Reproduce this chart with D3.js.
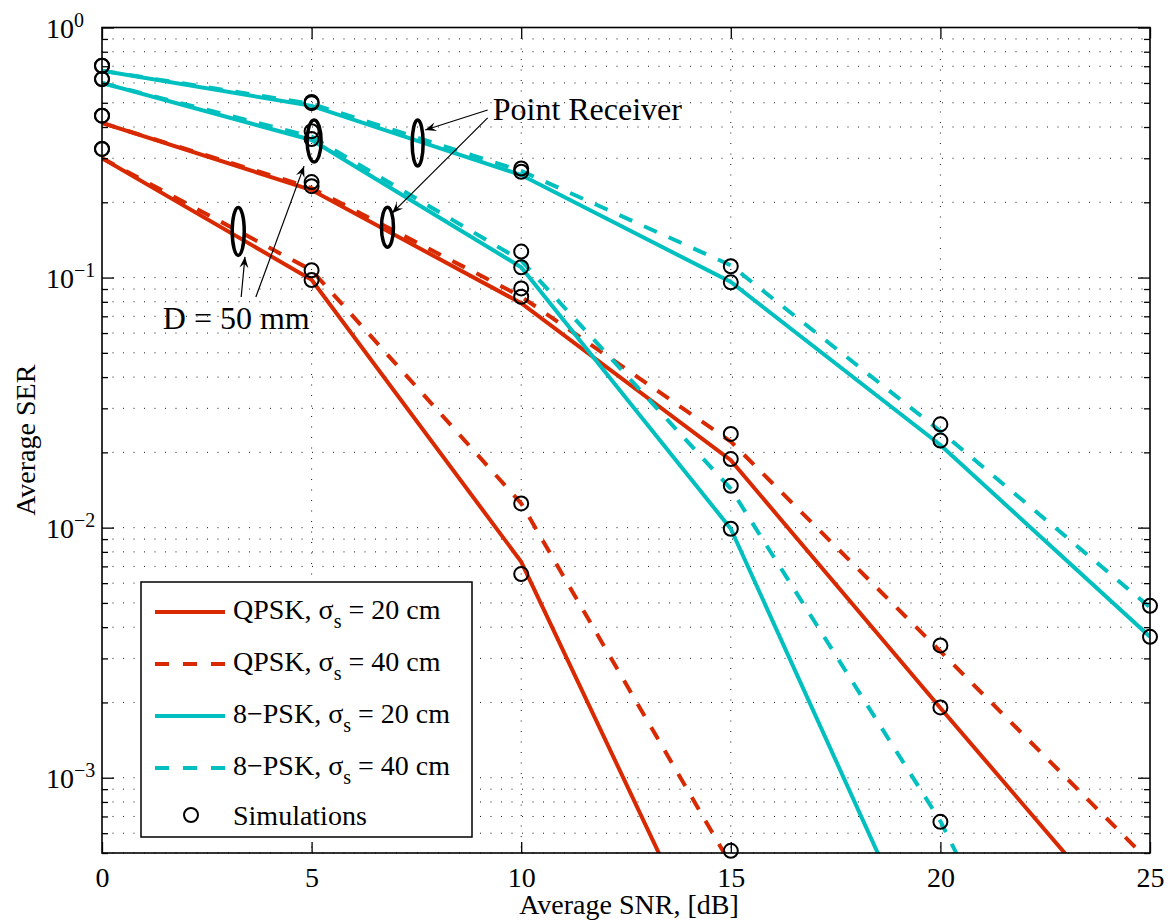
<!DOCTYPE html>
<html><head><meta charset="utf-8">
<script src="https://cdn.jsdelivr.net/npm/d3@7"></script>
<style>
body{margin:0;background:#fff}
svg{display:block}
text{font-family:"Liberation Serif","Times New Roman",serif;fill:#000}
</style>
</head><body>
<svg id="c" width="1172" height="922"></svg>
<script>
// ---------- data ----------
const snr = [0, 5, 10, 15, 20, 25];
const xTickValues = [0, 5, 10, 15, 20, 25];
const yMajorValues = [1, 0.1, 0.01, 0.001];

// analytical curves (D = 50 mm and point receiver)
const qpsk20Point = [0.415, 0.224, 0.079, 0.0186, 0.0019, 0.0002];
const qpsk40Point = [0.415, 0.228, 0.084, 0.0221, 0.0032, 0.00046];
const qpsk20D50   = [0.30, 0.098, 0.0073, 0.000123, null, null];
const qpsk40D50   = [0.30, 0.107, 0.0125, 0.00045, null, null];
const psk20Point  = [0.672, 0.486, 0.257, 0.096, 0.0214, 0.00366];
const psk40Point  = [0.672, 0.495, 0.267, 0.112, 0.0243, 0.0048];
const psk20D50    = [0.60, 0.355, 0.110, 0.0099, 0.00014, null];
const psk40D50    = [0.60, 0.366, 0.117, 0.0143, 0.00067, 0.000014];

// simulation points
const simQpsk20Point = [0.444, 0.232, 0.0838, 0.0188, 0.00191, null];
const simQpsk40Point = [0.444, 0.241, 0.0905, 0.0237, 0.00338, null];
const simQpsk20D50   = [0.327, 0.0977, 0.00652, null, null, null];
const simQpsk40D50   = [0.327, 0.107, 0.0125, 0.00051, null, null];
const simPsk20Point  = [0.703, 0.498, 0.265, 0.0957, 0.0223, 0.00366];
const simPsk40Point  = [0.703, 0.504, 0.273, 0.111, 0.0259, 0.00487];
const simPsk20D50    = [0.622, 0.358, 0.110, 0.0099, null, null];
const simPsk40D50    = [0.622, 0.385, 0.127, 0.0147, 0.000666, null];

const legendLabels = ["QPSK", "QPSK", "8\u2212PSK", "8\u2212PSK"];
const legendSigma = ["20", "40", "20", "40"];

// annotations (data coordinates)
const ellipseCenters = [[3.25, 0.153], [5.06, 0.352], [6.81, 0.159], [7.53, 0.345]];
const ellipseRadii = [[6, 24], [7, 21], [6, 20], [5.5, 23]];
const arrowsD = [[[3.32, 0.0836], [3.41, 0.121]], [[3.67, 0.0836], [4.82, 0.279]]];
const arrowsP = [[[9.2, 0.468], [7.71, 0.389]], [[9.2, 0.435], [6.92, 0.181]]];
const labelD = {text: "D = 50 mm", x: 1.45, y: 0.0622};
const labelP = {text: "Point Receiver", x: 9.32, y: 0.427};

// ---------- setup ----------
const RED = "#d92900", CYAN = "#00bfbf";
const FONT = '"Liberation Serif","Times New Roman",serif';
const m = {left: 102, right: 1150, top: 27.5, bottom: 853};
const x = d3.scaleLinear().domain([0, 25]).range([m.left, m.right]);
const y = d3.scaleLog().domain([5e-4, 1]).range([m.bottom, m.top]);
const svg = d3.select("#c");

const series = [
  {v: qpsk20Point, s: simQpsk20Point, c: RED, dash: false},
  {v: qpsk40Point, s: simQpsk40Point, c: RED, dash: true},
  {v: qpsk20D50, s: simQpsk20D50, c: RED, dash: false},
  {v: qpsk40D50, s: simQpsk40D50, c: RED, dash: true},
  {v: psk20Point, s: simPsk20Point, c: CYAN, dash: false},
  {v: psk40Point, s: simPsk40Point, c: CYAN, dash: true},
  {v: psk20D50, s: simPsk20D50, c: CYAN, dash: false},
  {v: psk40D50, s: simPsk40D50, c: CYAN, dash: true}
];

// minor values
const yMinor = [];
for (let e = -4; e <= -1; e++) for (let k = 2; k <= 9; k++) {
  const v = k * Math.pow(10, e);
  if (v >= 5e-4 && v < 1) yMinor.push(v);
}

// ---------- grid ----------
const grid = svg.append("g").attr("stroke", "#1a1a1a").attr("stroke-width", 1)
  .attr("stroke-dasharray", "1,9.5").attr("fill", "none");
grid.selectAll("line.v").data(xTickValues.filter(d => d > 0 && d < 25)).join("line")
  .attr("x1", d => x(d)).attr("x2", d => x(d)).attr("y1", m.top).attr("y2", m.bottom);
grid.selectAll("line.h").data(yMinor.concat(yMajorValues.filter(d => d < 1))).join("line")
  .attr("y1", d => y(d)).attr("y2", d => y(d)).attr("x1", m.left).attr("x2", m.right);

// ---------- lines ----------
svg.append("clipPath").attr("id", "clip").append("rect")
  .attr("x", m.left).attr("y", m.top).attr("width", m.right - m.left).attr("height", m.bottom - m.top);
const line = d3.line().defined(d => d[1] != null).x(d => x(d[0])).y(d => y(d[1]));
const gl = svg.append("g").attr("clip-path", "url(#clip)");
series.forEach(s => {
  gl.append("path").datum(snr.map((t, i) => [t, s.v[i]]))
    .attr("d", line).attr("fill", "none").attr("stroke", s.c).attr("stroke-width", 4)
    .attr("stroke-dasharray", s.dash ? "14,13" : null);
});

// ---------- simulation circles ----------
const pts = [];
series.forEach(s => snr.forEach((t, i) => { if (s.s[i] != null) pts.push([t, s.s[i]]); }));
svg.append("g").selectAll("circle").data(pts).join("circle")
  .attr("cx", d => x(d[0])).attr("cy", d => y(d[1])).attr("r", 7)
  .attr("fill", "none").attr("stroke", "#000").attr("stroke-width", 2);

// ---------- axes ----------
function styleAxis(g) {
  g.select(".domain").remove();
  g.selectAll("line").attr("stroke", "#000").attr("stroke-width", 1.3);
  g.attr("font-family", FONT).attr("font-size", 28);
  g.selectAll("text").attr("fill", "#000");
}
svg.append("g").attr("transform", `translate(0,${m.bottom})`)
  .call(d3.axisBottom(x).tickValues(xTickValues).tickFormat(d3.format("d"))
    .tickSizeInner(-11).tickSizeOuter(0).tickPadding(14)).call(styleAxis);
svg.append("g").attr("transform", `translate(0,${m.top})`)
  .call(d3.axisTop(x).tickValues(xTickValues).tickFormat("")
    .tickSizeInner(-11).tickSizeOuter(0)).call(styleAxis);
svg.append("g").attr("transform", `translate(${m.left},0)`)
  .call(d3.axisLeft(y).tickValues(yMajorValues).tickFormat("").tickSizeInner(-12).tickSizeOuter(0)).call(styleAxis);
svg.append("g").attr("transform", `translate(${m.left},0)`)
  .call(d3.axisLeft(y).tickValues(yMinor).tickFormat("").tickSizeInner(-6).tickSizeOuter(0)).call(styleAxis);
svg.append("g").attr("transform", `translate(${m.right},0)`)
  .call(d3.axisRight(y).tickValues(yMajorValues).tickFormat("").tickSizeInner(-12).tickSizeOuter(0)).call(styleAxis);
svg.append("g").attr("transform", `translate(${m.right},0)`)
  .call(d3.axisRight(y).tickValues(yMinor).tickFormat("").tickSizeInner(-6).tickSizeOuter(0)).call(styleAxis);

// y tick labels 10^e
yMajorValues.forEach(v => {
  const e = Math.round(Math.log10(v));
  const t = svg.append("text").attr("x", 46).attr("y", y(v) + 10).attr("font-size", 28);
  t.append("tspan").text("10");
  t.append("tspan").attr("dy", -11).attr("font-size", 20).text(e < 0 ? "\u2212" + (-e) : String(e));
});

// box
svg.append("rect").attr("x", m.left).attr("y", m.top).attr("width", m.right - m.left)
  .attr("height", m.bottom - m.top).attr("fill", "none").attr("stroke", "#000").attr("stroke-width", 1.6);

// axis titles
svg.append("text").attr("x", (m.left + m.right) / 2 + 3).attr("y", 914).attr("text-anchor", "middle")
  .attr("font-size", 28).text("Average SNR, [dB]");
svg.append("text").attr("transform", `translate(35,${(m.top + m.bottom) / 2}) rotate(-90)`)
  .attr("text-anchor", "middle").attr("font-size", 28).text("Average SER");

// ---------- legend ----------
const lg = svg.append("g");
lg.append("rect").attr("x", 141).attr("y", 582).attr("width", 331).attr("height", 255)
  .attr("fill", "#fff").attr("stroke", "#000").attr("stroke-width", 1.5);
const legendRows = [612, 664, 716, 768];
const legendStyles = [series[0], series[1], series[4], series[5]];
legendRows.forEach((ry, i) => {
  lg.append("line").attr("x1", 155).attr("x2", 225).attr("y1", ry).attr("y2", ry)
    .attr("stroke", legendStyles[i].c).attr("stroke-width", 4)
    .attr("stroke-dasharray", legendStyles[i].dash ? "14,14" : null);
  const t = lg.append("text").attr("x", 233).attr("y", ry + 7).attr("font-size", 28);
  t.append("tspan").text(legendLabels[i] + ", \u03c3");
  t.append("tspan").attr("dy", 9).attr("font-size", 20).text("s");
  t.append("tspan").attr("dy", -9).text(" = " + legendSigma[i] + " cm");
});
lg.append("circle").attr("cx", 191).attr("cy", 815).attr("r", 7).attr("fill", "none")
  .attr("stroke", "#000").attr("stroke-width", 2);
lg.append("text").attr("x", 233).attr("y", 825).attr("font-size", 28).text("Simulations");

// ---------- annotations ----------
svg.append("defs").append("marker").attr("id", "ah").attr("viewBox", "-12 -6 14 12")
  .attr("refX", 0).attr("refY", 0).attr("markerWidth", 14).attr("markerHeight", 12)
  .attr("markerUnits", "userSpaceOnUse").attr("orient", "auto")
  .append("path").attr("d", "M0,0 L-11,-4.5 L-7,0 L-11,4.5 Z").attr("fill", "#000");
const ga = svg.append("g");
ellipseCenters.forEach((c, i) => {
  ga.append("ellipse").attr("cx", x(c[0])).attr("cy", y(c[1]))
    .attr("rx", ellipseRadii[i][0]).attr("ry", ellipseRadii[i][1])
    .attr("fill", "none").attr("stroke", "#000").attr("stroke-width", 3.5);
});
arrowsD.concat(arrowsP).forEach(a => {
  ga.append("line").attr("x1", x(a[0][0])).attr("y1", y(a[0][1]))
    .attr("x2", x(a[1][0])).attr("y2", y(a[1][1]))
    .attr("stroke", "#000").attr("stroke-width", 1.2).attr("marker-end", "url(#ah)");
});
[labelD, labelP].forEach(l => {
  ga.append("text").attr("x", x(l.x)).attr("y", y(l.y)).attr("font-size", 32).text(l.text);
});
</script>
</body></html>
